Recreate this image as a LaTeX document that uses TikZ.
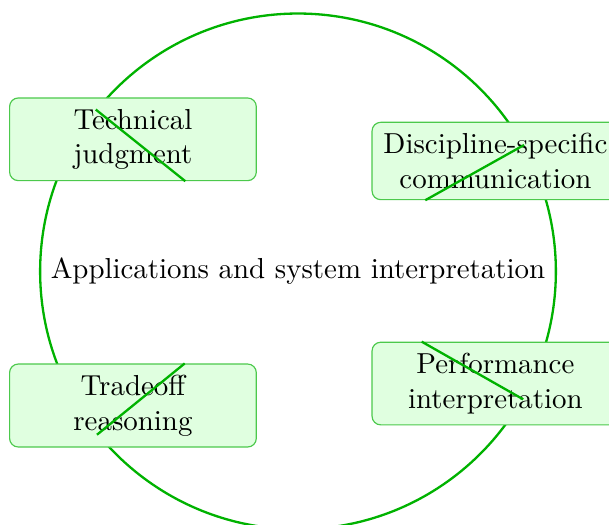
\documentclass[tikz,border=0pt]{standalone}
\usepackage{tikz}
\begin{document}
\begin{tikzpicture}[
		hub/.style={circle, draw=green!70!black, thick},
		topic/.style={rectangle, rounded corners=3pt, draw=green!70!black!70, fill=green!12, align=center, minimum width=3cm, inner ysep=3.8pt},
		link/.style={green!70!black, thick}]
		      \useasboundingbox (-103.1pt,-87.4pt) rectangle (107.6pt,93.9pt);
		      \node[hub] (apps) at (0,0) {Applications and system interpretation};

		      \node[topic] (tech) at (-57.1pt,45.7pt) {Technical\\judgment};
		      \node[topic] (disc) at (68.3pt,38.2pt) {Discipline-specific\\communication};
		      \node[topic] (trade) at (-57.1pt,-46.4pt) {Tradeoff\\reasoning};
		      \node[topic] (perf) at (68.3pt,-38.8pt) {Performance\\interpretation};

		      \draw[link] (apps) -- (tech);
		      \draw[link] (apps) -- (disc);
		      \draw[link] (apps) -- (trade);
		      \draw[link] (apps) -- (perf);
	      \end{tikzpicture}
\end{document}
